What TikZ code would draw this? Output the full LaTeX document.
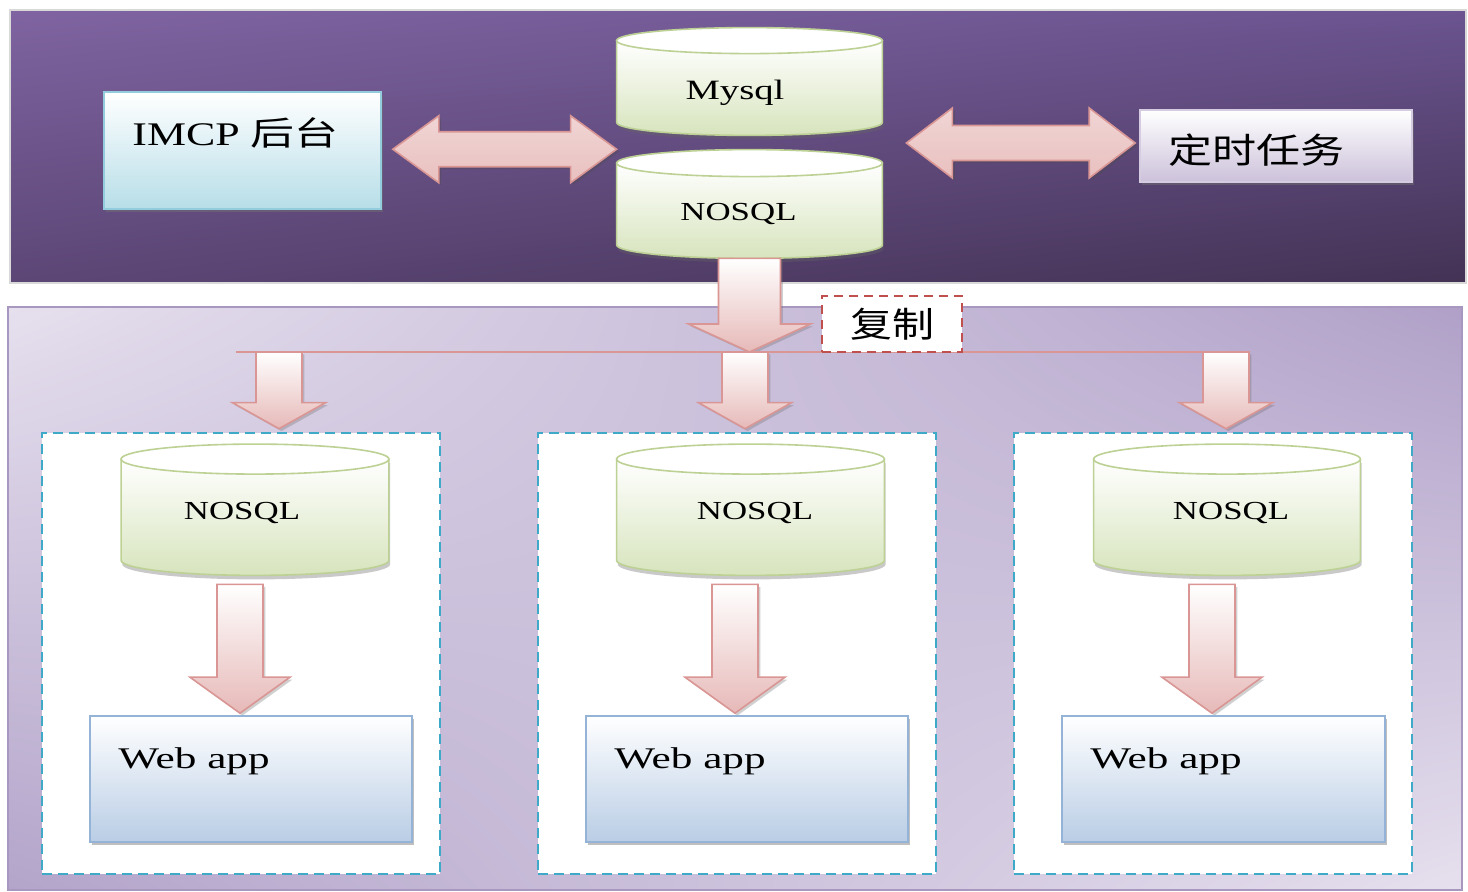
\documentclass[tikz,border=0pt]{standalone}
\usepackage{fontspec}
\setmainfont{Liberation Serif}
\newfontfamily\cjk{Noto Sans CJK SC}
\usetikzlibrary{calc,shadows,shadings}
\pgfdeclarelayer{bg}\pgfdeclarelayer{mid}\pgfsetlayers{bg,mid,main}
\definecolor{arrowpink}{HTML}{E6B9B8}
\definecolor{arrowline}{HTML}{D99694}
\definecolor{cylgreen}{HTML}{D7E4BD}
\definecolor{cylline}{HTML}{BDD195}
\definecolor{imcpblue}{HTML}{B7DEE8}
\definecolor{imcpline}{HTML}{93CDDD}
\definecolor{webblue}{HTML}{B9CDE5}
\definecolor{webline}{HTML}{95B3D7}
\definecolor{tasklav}{HTML}{CCC1DA}
\definecolor{taskline}{HTML}{D5CCE2}
\definecolor{dashcyan}{HTML}{3FAAC8}
\definecolor{copyred}{HTML}{C0504D}
\definecolor{ptl}{HTML}{7F64A1}
\definecolor{ptr}{HTML}{6B5490}
\definecolor{pbl}{HTML}{5C4676}
\definecolor{pbr}{HTML}{433254}
\definecolor{ltl}{HTML}{E6E0EE}
\definecolor{ltr}{HTML}{B0A0C8}
\definecolor{lbl}{HTML}{B3A4CA}
\definecolor{lbr}{HTML}{E6E0EE}
\definecolor{lowborder}{HTML}{A898C0}
\newcommand\fsz[1]{\fontsize{#1}{#1}\selectfont}
% cylinder drawn around a named node: #1 node, #2 ellipse half height
\newcommand\drawcyl[2]{%
 \begin{pgfonlayer}{mid}
 \shadedraw[cylbody] let \p1=(#1.north west), \p2=(#1.south east) in
  (\x1,\y1) -- (\x1,\y2+#2) arc[start angle=180, end angle=360, x radius={(\x2-\x1)/2}, y radius=#2] -- (\x2,\y1) -- cycle;
 \filldraw[cyltop] let \p1=(#1.north west), \p2=(#1.north east) in
  (#1.north) ellipse[x radius={(\x2-\x1)/2}, y radius=#2];
 \end{pgfonlayer}}
% down block arrow: #1 start, #2 tip, #3 half shaft, #4 half head, #5 head length
\newcommand\blockdown[5]{%
 \begin{pgfonlayer}{mid}
 \shadedraw[varrow] let \p1=(#1), \p2=(#2) in
  (\x2-#3,\y1) -- (\x2+#3,\y1) -- (\x2+#3,\y2+#5) -- (\x2+#4,\y2+#5) -- (\x2,\y2)
  -- (\x2-#4,\y2+#5) -- (\x2-#3,\y2+#5) -- cycle;
 \end{pgfonlayer}}
% double block arrow: #1 left tip, #2 right tip (gives y), #3 half shaft, #4 half head, #5 head length
\newcommand\blockboth[5]{%
 \begin{pgfonlayer}{mid}
 \shadedraw[dblarrow] let \p1=(#1), \p2=(#2) in
  (\x1,\y2) -- (\x1+#5,\y2+#4) -- (\x1+#5,\y2+#3) -- (\x2-#5,\y2+#3) -- (\x2-#5,\y2+#4)
  -- (\x2,\y2) -- (\x2-#5,\y2-#4) -- (\x2-#5,\y2-#3) -- (\x1+#5,\y2-#3) -- (\x1+#5,\y2-#4) -- cycle;
 \end{pgfonlayer}}
\begin{document}
\begin{tikzpicture}[x=0.5pt,y=-0.5pt,
  box/.style={rectangle, line width=0.8pt, inner sep=0pt,
    drop shadow={shadow xshift=1.2pt, shadow yshift=-1.5pt, opacity=0.45, fill=black!55}},
  txt/.style={inner sep=0pt, anchor=west, text=black},
  cyltxt/.style={inner sep=0pt, text=black},
  cylnode/.style={rectangle, inner sep=0pt},
  cylbody/.style={top color=white, bottom color=cylgreen, draw=cylline, line width=0.8pt,
    drop shadow={shadow xshift=0.6pt, shadow yshift=-2pt, opacity=0.35, fill=black!60}},
  cyltop/.style={fill=white, draw=cylline, line width=0.8pt},
  cont/.style={rectangle, draw=dashcyan, fill=white, dash pattern=on 5pt off 3pt, line width=1.3pt,
    minimum width=199pt, minimum height=220.5pt},
  copybox/.style={rectangle, draw=copyred, fill=white, dash pattern=on 4.5pt off 3pt, line width=1pt, inner sep=0pt},
  varrow/.style={top color=white, bottom color=arrowpink, draw=arrowline, line width=0.8pt,
    drop shadow={shadow xshift=1.2pt, shadow yshift=-1.2pt, opacity=0.3, fill=black!60}},
  dblarrow/.style={top color=arrowpink!60, middle color=white!92!arrowpink, bottom color=arrowpink!90, draw=arrowline, line width=0.8pt,
    drop shadow={shadow xshift=1.2pt, shadow yshift=-1.2pt, opacity=0.35, fill=black!70}},
  hline/.style={draw=arrowline, line width=1pt}
]
\useasboundingbox (0,0) rectangle (1468,892);
% panels and dashed containers
\begin{pgfonlayer}{bg}
\shadedraw[draw=black!15, line width=0.6pt, upper left=ptl, upper right=ptr, lower left=pbl, lower right=pbr]
  (10,10) rectangle (1466,283);
\shadedraw[draw=lowborder, line width=0.8pt, upper left=ltl, upper right=ltr, lower left=lbl, lower right=lbr]
  (8,307) rectangle (1462,890);
\node[cont] (cont1) at (241,653.5) {};
\node[cont] (cont2) at (737,653.5) {};
\node[cont] (cont3) at (1213,653.5) {};
\end{pgfonlayer}

% top row
\node[box, top color=white, bottom color=imcpblue, draw=imcpline, minimum width=138.5pt, minimum height=58.5pt] (imcp) at (242.5,150.5) {};
\node[txt, font={\fsz{16.5}}] (imcpt) at (132,133) {\scalebox{1.33}[1]{IMCP {\cjk 后台}}};

\node[box, top color=white, bottom color=tasklav, draw=taskline, minimum width=136pt, minimum height=36pt] (task) at (1276,146) {};
\node[txt, font={\fsz{17.5}}] (taskt) at (1168,150) {\scalebox{1.26}[1]{\cjk 定时任务}};

\node[cylnode, minimum width=132.5pt, minimum height=47pt] (mysql) at (749.5,88) {};
\drawcyl{mysql}{6.5pt}
\node[cyltxt, font={\fsz{14}}] (mysqlt) at ($(mysql.center)+(-14.5,5)$) {\scalebox{1.38}[1]{Mysql}};
\node[cylnode, minimum width=132.5pt, minimum height=47.25pt] (nosql0) at (749.5,210.75) {};
\drawcyl{nosql0}{6.75pt}
\node[cyltxt, font={\fsz{13}}] (nosql0t) at ($(nosql0.center)+(-11,3)$) {\scalebox{1.34}[1]{NOSQL}};

\coordinate (dbmid) at ($(mysql.south west)!0.5!(nosql0.north west)$);
\coordinate (dbmidr) at ($(mysql.south east)!0.5!(nosql0.north east)$);
\blockboth{$(imcp.east)+(11,0)$}{dbmid}{8.75pt}{16.75pt}{23pt}
\blockboth{$(dbmidr)+(24,0)$}{$(task.west)+(-4,-3)$}{8.75pt}{17.5pt}{23pt}

% replication
\coordinate (hl) at (236,352);
\coordinate (hr) at (1250,352);
\begin{pgfonlayer}{mid}
\draw[hline] (hl) -- (hr);
\end{pgfonlayer}
\node[copybox, minimum width=70pt, minimum height=28pt, font={\fsz{17.5}}] (copy) at (892,324) {\scalebox{1.2}[1]{\cjk 复制}};
\blockdown{nosql0.south}{nosql0.south |- hl}{15.5pt}{30.5pt}{14pt}

\coordinate (s1) at (279,352);
\coordinate (s2) at (745,352);
\coordinate (s3) at (1226,352);
\blockdown{s1}{$(s1 |- cont1.north)+(0,-3)$}{11.5pt}{23.25pt}{13pt}
\blockdown{s2}{$(s2 |- cont2.north)+(0,-3)$}{11.5pt}{23.25pt}{13pt}
\blockdown{s3}{$(s3 |- cont3.north)+(0,-3)$}{11.5pt}{23.25pt}{13pt}

% lower cylinders
\node[cylnode, minimum width=133.5pt, minimum height=57.75pt] (nosql1) at (255,517.25) {};
\drawcyl{nosql1}{7.5pt}
\node[cyltxt, font={\fsz{13}}] (nosql1t) at ($(nosql1.center)+(-13,-4)$) {\scalebox{1.34}[1]{NOSQL}};
\node[cylnode, minimum width=133.5pt, minimum height=57.75pt] (nosql2) at (750.5,517.25) {};
\drawcyl{nosql2}{7.5pt}
\node[cyltxt, font={\fsz{13}}] (nosql2t) at ($(nosql2.center)+(4.5,-4)$) {\scalebox{1.34}[1]{NOSQL}};
\node[cylnode, minimum width=133pt, minimum height=57.75pt] (nosql3) at (1227,517.25) {};
\drawcyl{nosql3}{7.5pt}
\node[cyltxt, font={\fsz{13}}] (nosql3t) at ($(nosql3.center)+(4,-4)$) {\scalebox{1.34}[1]{NOSQL}};

% web apps
\node[box, top color=white, bottom color=webblue, draw=webline, minimum width=161pt, minimum height=63pt] (web1) at (251,779) {};
\node[txt, font={\fsz{15}}] (web1t) at (118,761) {\scalebox{1.44}[1]{Web app}};
\node[box, top color=white, bottom color=webblue, draw=webline, minimum width=161pt, minimum height=63pt] (web2) at (747,779) {};
\node[txt, font={\fsz{15}}] (web2t) at (614,761) {\scalebox{1.44}[1]{Web app}};
\node[box, top color=white, bottom color=webblue, draw=webline, minimum width=161.5pt, minimum height=63pt] (web3) at (1223.5,779) {};
\node[txt, font={\fsz{15}}] (web3t) at (1090,761) {\scalebox{1.44}[1]{Web app}};

\blockdown{$(nosql1.south)+(-15,9)$}{$(web1.north)+(-11,-2)$}{11.5pt}{25pt}{18pt}
\blockdown{$(nosql2.south)+(-15,9)$}{$(web2.north)+(-12,-2)$}{11.5pt}{25pt}{18pt}
\blockdown{$(nosql3.south)+(-15,9)$}{$(web3.north)+(-11.5,-2)$}{11.5pt}{25pt}{18pt}
\end{tikzpicture}
\end{document}
